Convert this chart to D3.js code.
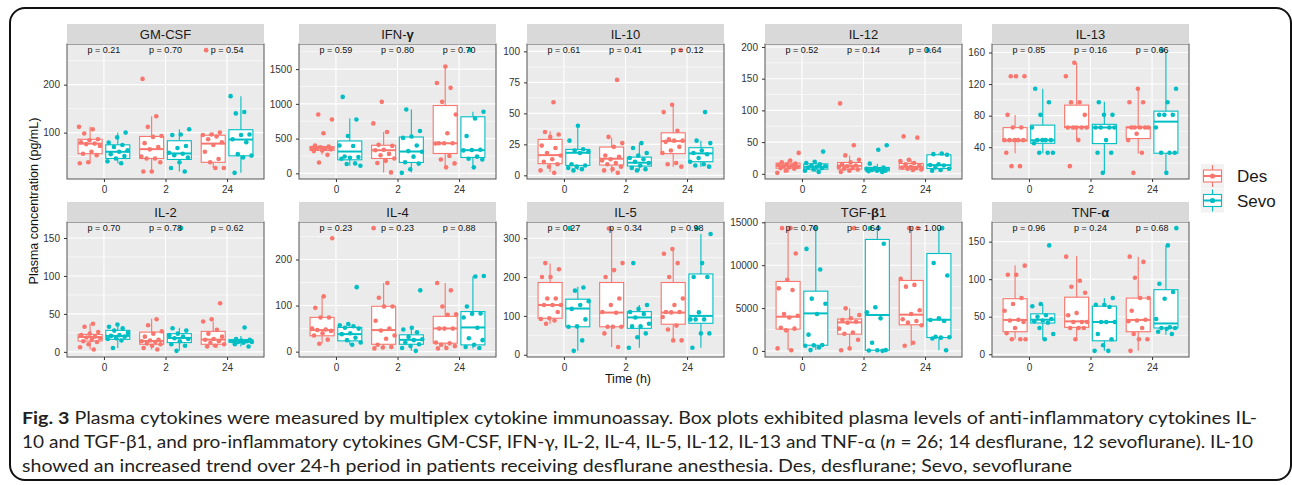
<!DOCTYPE html>
<html>
<head>
<meta charset="utf-8">
<script src="https://cdn.jsdelivr.net/npm/d3@7"></script>
<style>
  body { margin: 0; background: #fff; }
  svg { display: block; }
</style>
</head>
<body>
<svg width="1292" height="485"></svg>
<script>
// ---- data ----
var cytokines = ["GM-CSF", "IFN-γ", "IL-10", "IL-12", "IL-13", "IL-2", "IL-4", "IL-5", "TGF-β1", "TNF-α"];
var times = ["0", "2", "24"];
var groups = ["Des", "Sevo"];
var groupColors = ["#F8766D", "#00BFC4"];

var yTicks = [
  [100, 200], [0, 500, 1000, 1500], [0, 25, 50, 75, 100], [0, 50, 100, 150, 200], [40, 80, 120, 160],
  [0, 50, 100, 150], [0, 100, 200], [0, 100, 200, 300], [0, 5000, 10000, 15000], [0, 50, 100, 150]
];

var pValues = [
  ["0.21", "0.70", "0.54"], ["0.59", "0.80", "0.70"], ["0.61", "0.41", "0.12"], ["0.52", "0.14", "0.64"], ["0.85", "0.16", "0.66"],
  ["0.70", "0.78", "0.62"], ["0.23", "0.23", "0.88"], ["0.27", "0.34", "0.98"], ["0.70", "0.64", "1.00"], ["0.96", "0.24", "0.68"]
];

// individual patients, [0 h, 2 h, 24 h]
var desPoints = [
  [[112, 107, 98, 86, 84, 80, 77, 76, 72, 60, 56, 53, 38, 36], [212, 134, 112, 93, 91, 78, 70, 65, 50, 46, 46, 38, 19, 19], [272, 100, 96, 95, 92, 86, 80, 74, 60, 45, 38, 26, 26]],
  [[846, 774, 576, 400, 385, 375, 365, 360, 355, 345, 330, 320, 266, 157], [1029, 719, 595, 410, 395, 340, 333, 280, 260, 214, 180, 150, 14], [1537, 1300, 1230, 1029, 846, 576, 433, 433, 433, 430, 250, 200, 143, 86]],
  [[59, 35, 33, 31, 24, 22, 18, 16, 13, 11, 9, 7, 4, 2], [77, 31, 26, 23, 16, 15, 13, 12, 10, 9, 7, 5, 4, 2], [101, 57, 51, 36, 29, 28, 28, 27, 23, 20, 18, 10, 9, 7]],
  [[33, 21, 18, 16, 15, 14, 13, 12, 11, 10, 9, 8, 5, 1.5], [111, 45, 29, 22, 18, 15, 13, 12, 11, 9, 8, 7, 5, 3], [59, 57, 22, 20, 17, 15, 13, 11, 10, 9, 8, 7, 6]],
  [[130, 130, 130, 81, 65, 65, 49, 49, 49, 49, 49, 33, 16, 16], [147, 130, 97, 97, 81, 65, 65, 65, 65, 65, 49, 16], [114, 97, 97, 65, 65, 65, 65, 65, 57, 49, 33, 7.5]],
  [[37, 33, 26, 24, 22, 20, 19, 18, 16, 14, 13, 10, 6, 3], [43, 35, 27, 24, 20, 16, 15, 14, 13, 11, 10, 8, 5, 3], [64, 43, 40, 29, 24, 20, 17, 16, 14, 12, 10, 8, 7]],
  [[246, 120, 95, 74, 74, 50, 48, 47, 45, 40, 35, 26, 17], [268, 149, 117, 98, 98, 67, 50, 46, 35, 28, 15, 10, 9, 7], [149, 133, 98, 81, 80, 50, 50, 50, 20, 18, 15, 12, 8, 7]],
  [[236, 220, 200, 200, 145, 145, 128, 128, 128, 110, 94, 92, 88, 80], [325, 236, 218, 200, 145, 128, 110, 108, 72, 72, 72, 55, 20], [272, 260, 236, 200, 145, 128, 110, 110, 109, 97, 75, 65, 37, 37]],
  [[14320, 14320, 11360, 8300, 7300, 7100, 4300, 4100, 3900, 2700, 2600, 2400, 300, 80], [14320, 4970, 4200, 3800, 3600, 3400, 3300, 2600, 2150, 2000, 1300, 300, 80], [14320, 14320, 8400, 7700, 7500, 4750, 4300, 3700, 3500, 3300, 3000, 950, 600]],
  [[118, 106, 106, 75, 67, 58, 46, 45, 43, 35, 28, 20, 20, 20], [130, 98, 90, 82, 55, 52, 43, 43, 43, 35, 35, 35, 20], [130, 123, 102, 75, 75, 58, 46, 45, 44, 35, 27, 20, 20, 4.5]]
];

var sevoPoints = [
  [[100, 90, 79, 74, 70, 63, 60, 55, 51, 46, 40, 36], [107, 96, 95, 72, 68, 58, 56, 53, 48, 38, 26, 19], [176, 143, 140, 96, 95, 86, 80, 55, 52, 48, 16]],
  [[1100, 774, 537, 400, 394, 243, 235, 225, 210, 143, 135, 109], [919, 609, 530, 510, 400, 320, 310, 240, 160, 140, 60, 7], [1773, 886, 790, 537, 340, 335, 330, 240, 210, 200, 86]],
  [[40, 28, 21, 20, 19, 18, 9, 8, 7, 6, 5, 4], [26, 22, 18, 16, 14, 13, 11, 10, 8, 6, 5, 4], [51, 28, 26, 20, 18, 17, 14, 11, 9, 8, 7]],
  [[35, 19, 17, 15, 13, 12, 11, 10, 9, 7, 5, 3], [45, 38, 16, 10, 9, 8, 7, 6, 5, 5, 4, 3], [195, 32, 31, 30, 15, 14, 13, 10, 8, 6, 5]],
  [[114, 97, 81, 65, 49, 49, 49, 49, 45, 33, 33, 33], [97, 81, 81, 65, 65, 65, 65, 49, 33, 33, 7.5], [163, 114, 97, 81, 81, 81, 65, 33, 33, 33, 7.5]],
  [[36, 33, 31, 28, 25, 22, 21, 20, 18, 17, 15, 5], [163, 31, 28, 24, 22, 20, 18, 17, 14, 10, 8, 1.3], [32, 17, 16, 15, 14, 14, 13, 13, 12, 10, 7]],
  [[140, 60, 57, 55, 52, 50, 40, 38, 30, 25, 20, 15], [133, 52, 48, 42, 32, 27, 25, 20, 16, 12, 8, 1.7], [164, 163, 98, 83, 82, 74, 52, 29, 25, 15, 10, 8]],
  [[326, 173, 165, 138, 128, 118, 91, 73, 72, 37, 10], [236, 128, 118, 110, 105, 96, 80, 73, 73, 55, 45, 18], [326, 311, 236, 200, 200, 109, 91, 91, 91, 55, 55, 18]],
  [[14320, 11900, 9500, 6100, 5500, 4300, 1900, 700, 650, 600, 400, 100], [14320, 14320, 12500, 5100, 4500, 3800, 950, 100, 80, 60, 10], [14320, 10250, 8800, 3800, 3600, 3500, 1650, 1600, 1550, 1450, 80]],
  [[145, 67, 64, 52, 50, 47, 45, 44, 42, 35, 27, 20], [75, 66, 66, 63, 43, 43, 43, 27, 20, 12, 4.5, 4.5], [168, 145, 94, 83, 74, 47, 36, 35, 35, 34, 30, 27]]
];

// box stats [lower whisker, q1, median, q3, upper whisker]
var desBoxes = [
  [[36, 56, 77, 86, 112], [19, 46, 65.5, 92, 134], [26, 38, 77, 94.5, 100]],
  [[270, 330, 362, 385, 400], [14, 214, 333, 404, 595], [86, 286, 433, 976, 1537]],
  [[2.7, 9.4, 16.3, 29, 35.6], [2, 8.3, 13.4, 22.8, 30.3], [6.7, 17.5, 27.6, 34.3, 57]],
  [[2, 8.9, 12.6, 16.8, 21], [3, 7.4, 12.6, 17.9, 29], [6, 7.4, 11, 16.3, 22]],
  [[32.4, 48, 48.8, 64.8, 80.7], [48.8, 64.8, 65.6, 93.3, 146.7], [32, 51, 65, 65.6, 114]],
  [[3, 14.3, 19.6, 23, 37], [3, 10, 14.3, 26, 43.5], [6.5, 10, 16.1, 27, 40]],
  [[17.5, 34.4, 46.8, 74.4, 120], [7.3, 16, 46.8, 98.5, 149], [7.3, 18.4, 50.3, 76.6, 149]],
  [[80, 94, 128, 186, 235], [20, 72, 108.6, 186, 325], [37, 78.6, 108.6, 186, 272]],
  [[80, 2545, 3994, 8105, 14320], [80, 1960, 3330, 3720, 4970], [600, 3050, 4230, 8220, 14320]],
  [[20, 30, 45.7, 74, 118.7], [20, 35.8, 43.8, 76, 130.8], [4.5, 30, 45.7, 74.8, 130]]
];

var sevoBoxes = [
  [[36, 46, 60, 74.5, 100], [19, 44, 56.5, 83, 107], [16, 51.5, 85.5, 106, 176]],
  [[109, 195, 314, 466, 790], [14, 157, 314, 523, 919], [86, 229, 333, 814, 886]],
  [[4.3, 8, 18.2, 20.9, 40], [4, 7.5, 10.2, 14.7, 26], [6.7, 11, 17.7, 22.3, 28]],
  [[3, 7.4, 11, 15.7, 19], [3, 4.7, 7.4, 10, 16], [5, 8.4, 13.7, 30, 32]],
  [[32.4, 45, 48.8, 68, 114], [7.5, 44.6, 65, 69, 97.5], [7.5, 32.4, 72.4, 85.7, 161]],
  [[5.2, 16.5, 21, 28.3, 35.7], [1.3, 12.2, 18.3, 24, 31.8], [7, 12.6, 14.3, 16.1, 21]],
  [[14.7, 23.4, 38, 52.5, 60], [1.7, 16, 25.6, 36.5, 52.5], [7, 14.7, 52.5, 86.9, 163]],
  [[10, 72, 119, 143, 175], [18, 68, 96, 111, 128], [18, 81, 100, 208, 311]],
  [[100, 670, 4380, 6970, 14320], [10, 80, 4190, 13000, 14320], [80, 1570, 3640, 11360, 14320]],
  [[20, 41.6, 46, 53.8, 67], [4.5, 17.9, 43, 64, 75], [26, 35, 41, 86, 145]]
];

var captionLines = [
  [["Fig. 3", "bold"], [" Plasma cytokines were measured by multiplex cytokine immunoassay. Box plots exhibited plasma levels of anti-inflammatory cytokines IL-", ""]],
  [["10 and TGF-β1, and pro-inflammatory cytokines GM-CSF, IFN-γ, IL-2, IL-4, IL-5, IL-12, IL-13 and TNF-α (", ""], ["n", "italic"], [" = 26; 14 desflurane, 12 sevoflurane). IL-10", ""]],
  [["showed an increased trend over 24-h period in patients receiving desflurane anesthesia. Des, desflurane; Sevo, sevoflurane", ""]]
];

// ---- layout ----
var colX = [67, 299, 527, 765, 992];
var rowY = [44, 222];
var panelW = 197, panelH = 135, stripH = 20;
var axisFont = "'Liberation Sans', Arial, Helvetica, sans-serif";

var svg = d3.select("svg");

// rounded frame round the whole figure
svg.append("rect")
  .attr("x", 10).attr("y", 8)
  .attr("width", 1281).attr("height", 472)
  .attr("rx", 15)
  .attr("fill", "none")
  .attr("stroke", "#111")
  .attr("stroke-width", 2);

cytokines.forEach(function (name, i) {
  var col = i % 5, row = Math.floor(i / 5);
  var x0 = colX[col], y0 = rowY[row];

  var all = d3.merge(desPoints[i].concat(sevoPoints[i]));
  var lo = d3.min(all), hi = d3.max(all), pad = (hi - lo) * 0.05; // ggplot 5% expansion
  var y = d3.scaleLinear().domain([lo - pad, hi + pad]).range([y0 + panelH, y0]);
  var x = d3.scalePoint().domain(times).range([x0, x0 + panelW]).padding(0.6);
  var step = x.step();

  var g = svg.append("g");

  g.append("rect")
    .attr("x", x0).attr("y", y0)
    .attr("width", panelW).attr("height", panelH)
    .attr("fill", "#EBEBEB");

  // minor grid halfway between breaks
  var ticks = yTicks[i], tstep = ticks[1] - ticks[0];
  var minors = [ticks[0] - tstep / 2].concat(ticks.map(function (t) { return t + tstep / 2; }))
    .filter(function (v) { return v > y.domain()[0] && v < y.domain()[1]; });
  g.selectAll(".minor").data(minors).enter().append("line")
    .attr("x1", x0).attr("x2", x0 + panelW)
    .attr("y1", function (d) { return y(d); }).attr("y2", function (d) { return y(d); })
    .attr("stroke", "#fff").attr("stroke-width", 0.6);
  g.selectAll(".major").data(ticks).enter().append("line")
    .attr("x1", x0).attr("x2", x0 + panelW)
    .attr("y1", function (d) { return y(d); }).attr("y2", function (d) { return y(d); })
    .attr("stroke", "#fff").attr("stroke-width", 1.1);
  g.selectAll(".vgrid").data(times).enter().append("line")
    .attr("x1", function (d) { return x(d); }).attr("x2", function (d) { return x(d); })
    .attr("y1", y0).attr("y2", y0 + panelH)
    .attr("stroke", "#fff").attr("stroke-width", 1.1);

  // boxes
  groups.forEach(function (grp, k) {
    var boxes = k ? sevoBoxes[i] : desBoxes[i];
    var color = groupColors[k];
    var bw = 0.39 * step;
    boxes.forEach(function (b, j) {
      var cx = x(times[j]) + (k ? 1 : -1) * 0.225 * step;
      g.append("line")
        .attr("x1", cx).attr("x2", cx)
        .attr("y1", y(b[0])).attr("y2", y(b[4]))
        .attr("stroke", color).attr("stroke-width", 1.1);
      g.append("rect")
        .attr("x", cx - bw / 2).attr("y", y(b[3]))
        .attr("width", bw).attr("height", Math.max(0.5, y(b[1]) - y(b[3])))
        .attr("fill", "#fff").attr("stroke", color).attr("stroke-width", 1.1);
      g.append("line")
        .attr("x1", cx - bw / 2).attr("x2", cx + bw / 2)
        .attr("y1", y(b[2])).attr("y2", y(b[2]))
        .attr("stroke", color).attr("stroke-width", 2);
    });
  });

  // jittered points (fixed, repeatable offsets)
  groups.forEach(function (grp, k) {
    var pts = k ? sevoPoints[i] : desPoints[i];
    pts.forEach(function (vals, j) {
      var cx = x(times[j]) + (k ? 1 : -1) * 0.225 * step;
      g.selectAll(null).data(vals).enter().append("circle")
        .attr("cx", function (d, n) {
          var f = ((n + j * 5 + k * 3 + i * 7) * 0.618034) % 1;
          return cx + (f - 0.5) * 0.36 * step;
        })
        .attr("cy", function (d) { return y(d); })
        .attr("r", 2.3)
        .attr("fill", groupColors[k]);
    });
  });

  g.append("rect")
    .attr("x", x0).attr("y", y0)
    .attr("width", panelW).attr("height", panelH)
    .attr("fill", "none").attr("stroke", "#555").attr("stroke-width", 1);

  // p-values at the top of the data
  g.selectAll(".p").data(pValues[i]).enter().append("text")
    .attr("x", function (d, j) { return x(times[j]); })
    .attr("y", y(hi))
    .attr("dy", "0.35em")
    .attr("text-anchor", "middle")
    .style("font-family", axisFont).style("font-size", "9px").style("fill", "#111")
    .text(function (d) { return "p = " + d; });

  // strip
  g.append("rect")
    .attr("x", x0).attr("y", y0 - stripH)
    .attr("width", panelW).attr("height", stripH)
    .attr("fill", "#D9D9D9");
  var st = g.append("text")
    .attr("x", x0 + panelW / 2).attr("y", y0 - stripH / 2 + 4.5)
    .attr("text-anchor", "middle")
    .style("font-family", axisFont).style("font-size", "13px").style("fill", "#1A1A1A");
  name.split(/([αβγ])/).forEach(function (part) {
    if (!part) return;
    st.append("tspan").text(part).style("font-weight", /[αβγ]/.test(part) ? "bold" : "normal");
  });

  // axes
  var yAxis = g.append("g")
    .attr("transform", "translate(" + x0 + ",0)")
    .call(d3.axisLeft(y).tickValues(ticks).tickFormat(d3.format("d"))
      .tickSizeInner(3).tickSizeOuter(0).tickPadding(4));
  var xAxis = g.append("g")
    .attr("transform", "translate(0," + (y0 + panelH) + ")")
    .call(d3.axisBottom(x).tickSizeInner(3).tickSizeOuter(0).tickPadding(4));
  [yAxis, xAxis].forEach(function (ax) {
    ax.select(".domain").remove();
    ax.selectAll("line").attr("stroke", "#333");
    ax.selectAll("text").style("font-family", axisFont).style("font-size", "10px").style("fill", "#333");
  });
});

// axis titles
svg.append("text")
  .attr("transform", "translate(38,201) rotate(-90)")
  .attr("text-anchor", "middle")
  .style("font-family", axisFont).style("font-size", "12.5px").style("fill", "#111")
  .text("Plasma concentration (pg/mL)");

svg.append("text")
  .attr("x", 628).attr("y", 383)
  .attr("text-anchor", "middle")
  .style("font-family", axisFont).style("font-size", "12.5px").style("fill", "#111")
  .text("Time (h)");

// legend
var legend = svg.append("g").attr("transform", "translate(1201,164)");
groups.forEach(function (grp, k) {
  var lg = legend.append("g").attr("transform", "translate(0," + (k * 24.5) + ")");
  var c = groupColors[k];
  lg.append("rect").attr("width", 23).attr("height", 24).attr("fill", "#F2F2F2");
  lg.append("line").attr("x1", 11.5).attr("x2", 11.5).attr("y1", 1).attr("y2", 23)
    .attr("stroke", c).attr("stroke-width", 1.1);
  lg.append("rect").attr("x", 2.5).attr("y", 6).attr("width", 18).attr("height", 12)
    .attr("fill", "#fff").attr("stroke", c).attr("stroke-width", 1.1);
  lg.append("line").attr("x1", 2.5).attr("x2", 20.5).attr("y1", 12).attr("y2", 12)
    .attr("stroke", c).attr("stroke-width", 2);
  lg.append("circle").attr("cx", 11.5).attr("cy", 12).attr("r", 2.6).attr("fill", c);
  lg.append("text").attr("x", 36).attr("y", 18)
    .style("font-family", axisFont).style("font-size", "17px").style("fill", "#1A1A1A")
    .text(grp);
});

// caption
var capWidths = [1235, 1231, 1050];
captionLines.forEach(function (parts, li) {
  var t = svg.append("text")
    .attr("x", 22).attr("y", 424 + li * 24)
    .attr("textLength", capWidths[li])
    .attr("lengthAdjust", "spacingAndGlyphs")
    .style("font-family", "Lato, 'Open Sans', sans-serif").style("font-size", "17px").style("fill", "#231F20");
  parts.forEach(function (p) {
    var ts = t.append("tspan").text(p[0]);
    if (p[1] === "bold") ts.style("font-weight", "bold");
    if (p[1] === "italic") ts.style("font-style", "italic");
  });
});
</script>
</body>
</html>
